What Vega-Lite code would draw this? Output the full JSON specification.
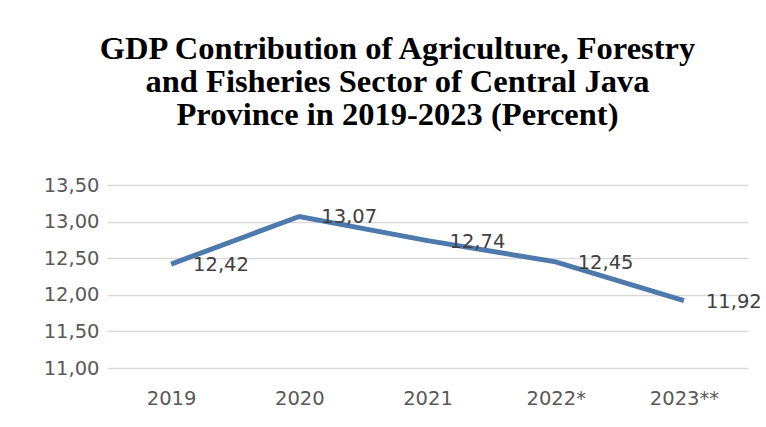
{
  "$schema": "https://vega.github.io/schema/vega-lite/v6.json",
  "autosize": "none",
  "width": 641,
  "height": 183,
  "padding": {"left": 107, "top": 185, "right": 18, "bottom": 59},
  "background": "white",
  "config": {
    "view": {"stroke": null},
    "locale": {"number": {"decimal": ",", "thousands": ".", "grouping": [3], "currency": ["", ""]}}
  },
  "title": {
    "text": ["GDP Contribution of Agriculture, Forestry", "and Fisheries Sector of Central Java", "Province in 2019-2023 (Percent)"],
    "font": "Liberation Serif",
    "fontSize": 32.5,
    "fontWeight": "bold",
    "color": "#000000",
    "anchor": "middle",
    "frame": "group",
    "dx": -30,
    "offset": 44,
    "lineHeight": 33
  },
  "data": {
    "values": [
      {"year": "2019", "value": 12.42},
      {"year": "2020", "value": 13.07},
      {"year": "2021", "value": 12.74},
      {"year": "2022*", "value": 12.45},
      {"year": "2023**", "value": 11.92}
    ]
  },
  "encoding": {
    "x": {
      "field": "year", "type": "ordinal", "sort": null,
      "scale": {"type": "point", "padding": 0.5},
      "axis": {"title": null, "labelAngle": 0, "domain": false, "ticks": false, "grid": false,
               "labelFont": "DejaVu Sans", "labelFontSize": 19.5, "labelColor": "#595959", "labelPadding": 21}
    },
    "y": {
      "field": "value", "type": "quantitative",
      "scale": {"domain": [11, 13.5], "nice": false, "zero": false},
      "axis": {"title": null, "values": [11, 11.5, 12, 12.5, 13, 13.5], "format": ".2f",
               "domain": false, "ticks": false, "gridColor": "#d9d9d9", "gridWidth": 1.3,
               "labelFont": "DejaVu Sans", "labelFontSize": 19.5, "labelColor": "#595959", "labelPadding": 8}
    }
  },
  "layer": [
    {"mark": {"type": "line", "color": "#4d79ad", "strokeWidth": 5}},
    {"mark": {"type": "text", "align": "left", "baseline": "middle", "dx": 22, "dy": 1,
              "font": "DejaVu Sans", "fontSize": 19.5, "color": "#404040"},
     "encoding": {"text": {"field": "value", "type": "quantitative", "format": ".2f"}}}
  ]
}
